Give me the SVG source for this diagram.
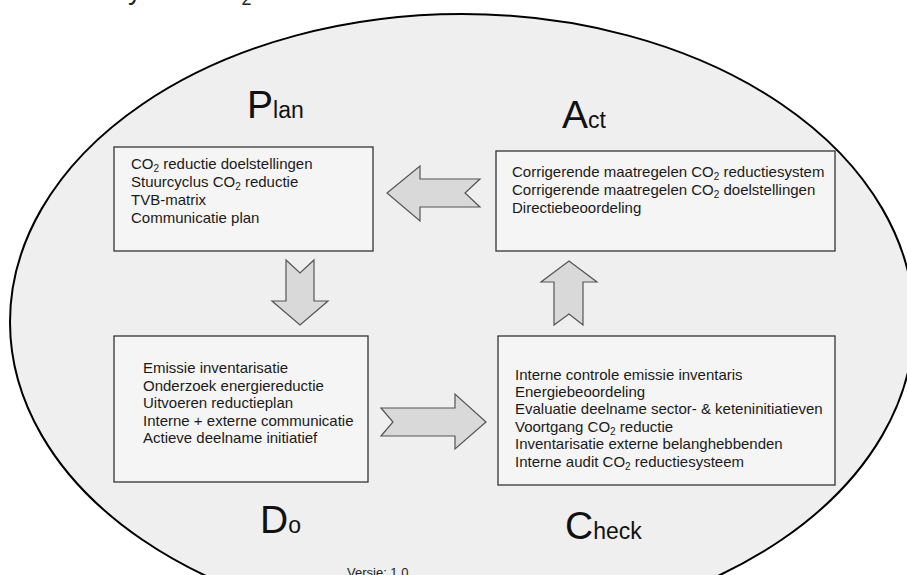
<svg xmlns="http://www.w3.org/2000/svg" width="907" height="575" viewBox="0 0 907 575">
<style>
text{font-family:"Liberation Sans",Arial,sans-serif;}
.box{fill:#f5f5f5;stroke:#333;stroke-width:1.3;}
.bt{font-size:15px;fill:#1a1a1a;}
.sub{font-size:10px;}
.arr{fill:#d9d9d9;stroke:#555;stroke-width:1.2;stroke-linejoin:miter;}
.big{font-size:39px;fill:#111;}
.sm{font-size:23px;fill:#111;}
</style>
<rect width="907" height="575" fill="#ffffff"/>
<text x="47" y="-1" font-size="28" fill="#222">Stuurcyclus CO<tspan font-size="18" dy="6">2</tspan><tspan dy="-6"> reductie</tspan></text>
<ellipse cx="462" cy="322" rx="452" ry="308" fill="#efefef" stroke="#000" stroke-width="2"/>

<g id="plan">
<text x="247" y="118"><tspan class="big">P</tspan><tspan class="sm">lan</tspan></text>
<rect class="box" x="114" y="147" width="259" height="104"/>
<text class="bt" x="131" y="169">CO<tspan class="sub" dy="3">2</tspan><tspan dy="-3"> reductie doelstellingen</tspan></text>
<text class="bt" x="131" y="187">Stuurcyclus  CO<tspan class="sub" dy="3">2</tspan><tspan dy="-3"> reductie</tspan></text>
<text class="bt" x="131" y="205">TVB-matrix</text>
<text class="bt" x="131" y="223">Communicatie plan</text>
</g>

<g id="act">
<text x="562" y="128"><tspan class="big">A</tspan><tspan class="sm">ct</tspan></text>
<rect class="box" x="496" y="151" width="339" height="100"/>
<text class="bt" x="512" y="177">Corrigerende maatregelen CO<tspan class="sub" dy="3">2</tspan><tspan dy="-3"> reductiesystem</tspan></text>
<text class="bt" x="512" y="195">Corrigerende maatregelen CO<tspan class="sub" dy="3">2</tspan><tspan dy="-3"> doelstellingen</tspan></text>
<text class="bt" x="512" y="213">Directiebeoordeling</text>
</g>

<g id="do">
<rect class="box" x="114" y="336" width="254" height="146"/>
<text class="bt" x="143" y="373">Emissie inventarisatie</text>
<text class="bt" x="143" y="391">Onderzoek energiereductie</text>
<text class="bt" x="143" y="408">Uitvoeren reductieplan</text>
<text class="bt" x="143" y="426">Interne + externe communicatie</text>
<text class="bt" x="143" y="443">Actieve deelname initiatief</text>
<text x="260" y="533"><tspan class="big">D</tspan><tspan class="sm">o</tspan></text>
</g>

<g id="check">
<rect class="box" x="498" y="336" width="337" height="149"/>
<text class="bt" x="515" y="380">Interne controle emissie inventaris</text>
<text class="bt" x="515" y="397">Energiebeoordeling</text>
<text class="bt" x="515" y="414">Evaluatie deelname sector- &amp; keteninitiatieven</text>
<text class="bt" x="515" y="432">Voortgang CO<tspan class="sub" dy="3">2</tspan><tspan dy="-3"> reductie</tspan></text>
<text class="bt" x="515" y="449">Inventarisatie externe belanghebbenden</text>
<text class="bt" x="515" y="467">Interne audit CO<tspan class="sub" dy="3">2</tspan><tspan dy="-3"> reductiesysteem</tspan></text>
<text x="565" y="539"><tspan class="big">C</tspan><tspan class="sm">heck</tspan></text>
</g>

<g id="connectors">
<path class="arr" d="M420,179 L480,179 L465,193 L480,207 L420,207 L420,221 L387,193 L420,166 Z"/>
<path class="arr" d="M286,260 L300,273 L314,260 L314,301 L328,301 L300,325 L272,301 L286,301 Z"/>
<path class="arr" d="M554,325 L569,314 L583,325 L583,282 L597,282 L569,261 L541,282 L554,282 Z"/>
<path class="arr" d="M381,408 L455,408 L455,394 L486,422 L455,449 L455,436 L381,436 L393,422 Z"/>
</g>

<text x="347" y="577" font-size="13" fill="#222">Versie:  1.0</text>
</svg>
